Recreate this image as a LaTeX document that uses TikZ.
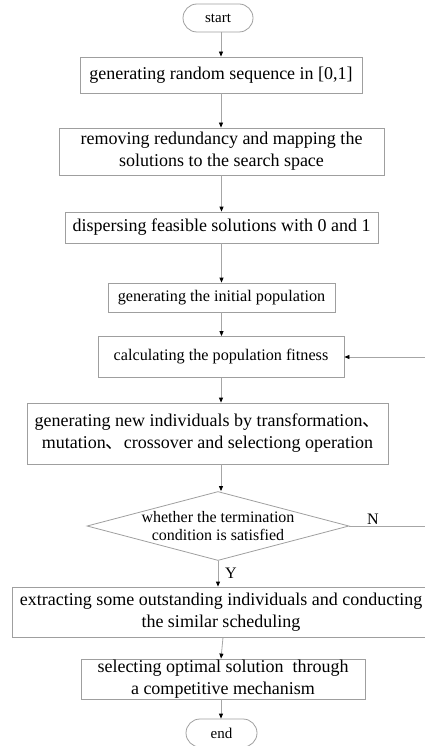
\documentclass[tikz,border=0pt]{standalone}
\usepackage{fontspec}
\setmainfont{Liberation Serif}
\newfontfamily\cjk{Noto Sans CJK SC}
\usetikzlibrary{arrows.meta,shapes.geometric}
\begin{document}
\begin{tikzpicture}[x=1pt,y=-1pt,
  box/.style={draw=gray!75, line width=0.8pt, align=center, inner sep=0pt,
    font=\fontsize{18}{22}\selectfont},
  smallbox/.style={box, font=\fontsize{16.2}{20}\selectfont},
  pill/.style={draw=gray!75, line width=0.8pt, rounded corners=14pt, inner sep=0pt,
    minimum width=70pt, minimum height=28pt, font=\fontsize{15}{18}\selectfont},
  decision/.style={diamond, draw=gray!75, line width=0.8pt, inner sep=0pt},
  lbl/.style={inner sep=0pt, font=\fontsize{16}{18}\selectfont},
  line/.style={draw=gray!70, line width=0.8pt},
  conn/.style={line, -{Triangle[length=5pt,width=4pt,color=black,fill=black]}}]
\useasboundingbox (0,0) rectangle (424,746);
\node[pill] (start) at (218,18) {start};
\node[box, minimum width=282pt, minimum height=36pt] (b1) at (221,75)
  {generating random sequence in [0,1]};
\node[box, minimum width=325pt, minimum height=47pt] (b2) at (221.5,151.5)
  {removing redundancy and mapping the\\solutions to the search space};
\node[box, minimum width=313pt, minimum height=31pt] (b3) at (221.5,227.5)
  {dispersing feasible solutions with 0 and 1};
\node[smallbox, minimum width=227pt, minimum height=29pt] (b4) at (221.5,297.5)
  {generating the initial population};
\node[smallbox, minimum width=246pt, minimum height=41pt] (b5) at (221,357)
  {calculating the population fitness};
\node[box, minimum width=361pt, minimum height=61pt] (b6) at (207.5,433.5)
  {generating new individuals by transformation{\cjk 、}\\mutation{\cjk 、}crossover and selectiong operation};
\node[decision, minimum width=262pt, minimum height=69pt] (d) at (218,526) {};
\node[lbl, align=center] (dt) at (d.center)
  {whether the termination\\condition is satisfied};
\node[box, minimum width=418pt, minimum height=50pt] (b7) at (221,612)
  {extracting some outstanding individuals and conducting\\the similar scheduling};
\node[box, minimum width=284pt, minimum height=40pt] (b8) at (223,679)
  {selecting optimal solution~ through\\a competitive mechanism};
\node[pill, minimum width=71pt] (end) at (221.5,733) {end};

\draw[conn] (start.south -| b1) -- (b1.north);
\draw[conn] (b1.south) -- (b2.north -| b1.south);
\draw[conn] (b2.south) -- (b3.north -| b2.south);
\draw[conn] (b3.south) -- (b4.north -| b3.south);
\draw[conn] (b4.south) -- (b5.north -| b4.south);
\draw[conn] (b5.south) -- (b6.north -| b5.south);
\draw[conn] (b6.south -| b5.south) -- (d.north -| b5.south);
\draw[conn] (d.south) -- (b7.north -| d.south);
\draw[conn] (b7.south -| b8.north) -- (b8.north -| b1.south);
\draw[conn] (b8.south -| b1.south) -- (end.north -| b1.south);

\coordinate (r1) at (432,526);
\coordinate (r2) at (432,357);
\draw[line] (d.east) -- (r1) -- (r2);
\draw[conn] (r2) -- (b5.east);
\node[lbl] (n) at (373,519) {N};
\node[lbl] (y) at (231,573) {Y};
\end{tikzpicture}
\end{document}
